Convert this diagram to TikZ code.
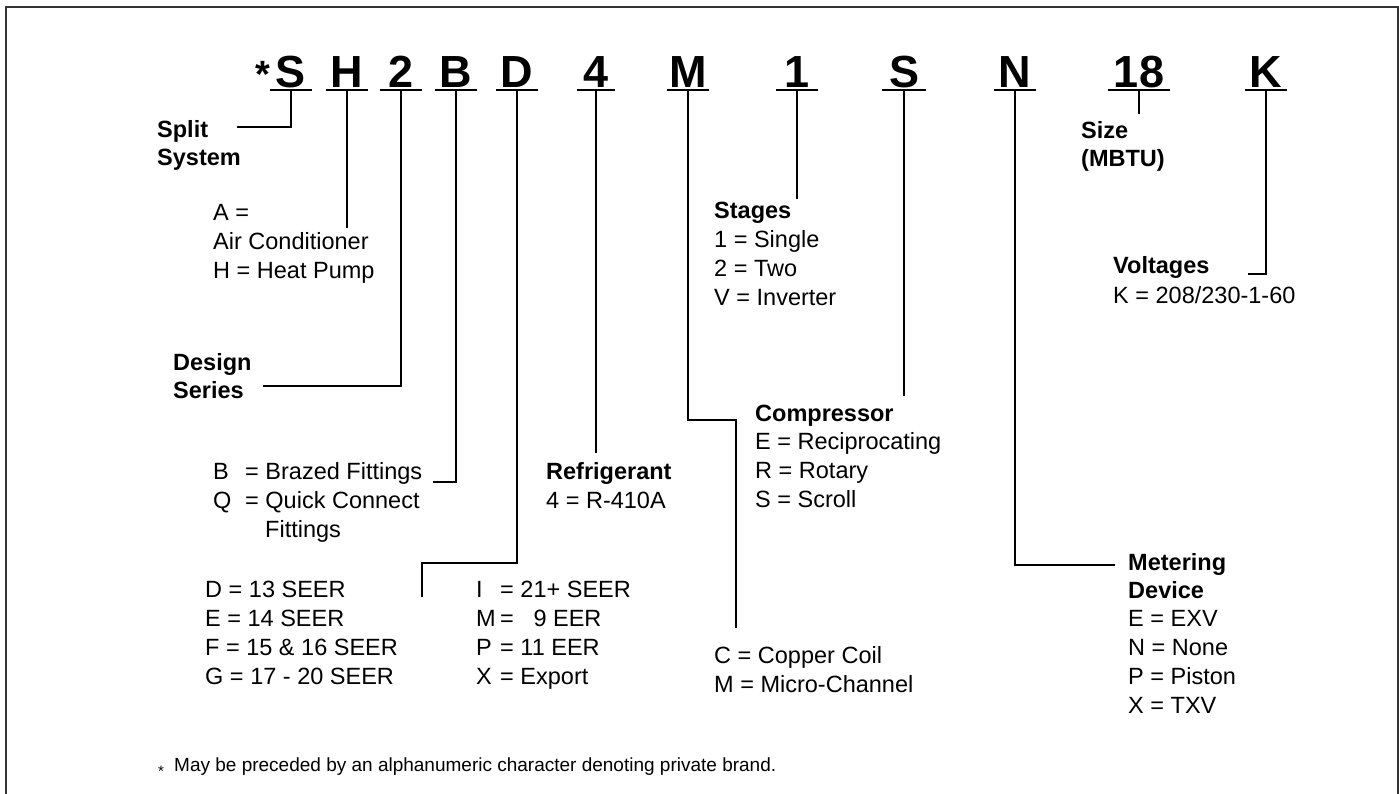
\documentclass[tikz,border=0pt]{standalone}
\usepackage{fontspec}
\setmainfont{Liberation Sans}
\begin{document}
\begin{tikzpicture}[x=1pt,y=-1pt,
  ln/.style={line width=2.2pt},
  ul/.style={line width=2.2pt},
  frame/.style={line width=2pt, draw=black!80},
  code/.style={font=\fontsize{45}{45}\selectfont\bfseries, anchor=base, inner sep=0pt},
  lbl/.style={font=\fontsize{23.5}{29}\selectfont, anchor=base west, inner sep=0pt, align=left},
  hd/.style={lbl, font=\fontsize{23.5}{28}\selectfont\bfseries},
  foot/.style={font=\fontsize{19}{23}\selectfont, anchor=base west, inner sep=0pt}
]
\useasboundingbox (0,0) rectangle (1399,793);
\draw[frame] (6,805) -- (6,7) -- (1398,7) -- (1398,805);

% code letters
\foreach \n/\x/\w/\t in {cS/291/41/S, cH/347/42/H, cTwo/401/42/2, cB/456/41/B, cD/517/42/D,
  cFour/596/38/4, cM/688/42/M, cOne/797/42/1, cSc/904/43/S, cN/1015/42/N, cSize/1139/61/18, cK/1266/42/K}
{
  \node[code, minimum width=\w pt] (\n) at (\x,87) {\t};
  \draw[ul] ([yshift=-3pt]\n.base west) -- ([yshift=-3pt]\n.base east);
}
\node[code, anchor=base east, font=\fontsize{38}{38}\selectfont\bfseries] (star) at ([xshift=0pt]cS.base west) {*};

% free ends
\coordinate (eS) at (237,127);
\coordinate (eDes) at (263,386);
\coordinate (eB) at (433,482);
\coordinate (eD) at (422,597);
\coordinate (eM) at (736,628);
\coordinate (eN) at (1115,565);
\coordinate (eK) at (1248,274);

% connectors
\draw[ln] ([yshift=-3pt]cS.base) |- (eS);
\draw[ln] ([yshift=-3pt]cH.base) -- ++(0,138);
\draw[ln] ([yshift=-3pt]cTwo.base) |- (eDes);
\draw[ln] ([yshift=-3pt]cB.base) |- (eB);
\draw[ln] ([yshift=-3pt]cD.base) -- ++(0,473) -| (eD);
\draw[ln] ([yshift=-3pt]cFour.base) -- ++(0,363);
\draw[ln] ([yshift=-3pt]cM.base) -- ++(0,330) -| (eM);
\draw[ln] ([yshift=-3pt]cOne.base) -- ++(0,109);
\draw[ln] ([yshift=-3pt]cSc.base) -- ++(0,306);
\draw[ln] ([yshift=-3pt]cN.base) |- (eN);
\draw[ln] ([yshift=-3pt]cSize.base) -- ++(0,24);
\draw[ln] ([yshift=-3pt]cK.base) |- (eK);

% labels (anchor = baseline of the last line)
\node[hd] (split) at (157,165) {Split\\System};
\node[lbl] (type) at (213,278) {A =\\Air Conditioner\\H = Heat Pump};
\node[hd] (design) at (173,398) {Design\\Series};
\node[lbl] (fit) at (213,537) {\makebox[32pt][l]{B}= Brazed Fittings\\\makebox[32pt][l]{Q}= Quick Connect\\\hspace*{52pt}Fittings};
\node[lbl] (seerA) at (205,684) {D = 13 SEER\\E = 14 SEER\\F = 15 \& 16 SEER\\G = 17 - 20 SEER};
\node[lbl] (seerB) at (476,684) {\makebox[24pt][l]{I}= 21+ SEER\\\makebox[24pt][l]{M}= \phantom{1}9 EER\\\makebox[24pt][l]{P}= 11 EER\\\makebox[24pt][l]{X}= Export};
\node[hd] (refr) at (546,479) {Refrigerant};
\node[lbl] (refrv) at (546,508) {4 = R-410A};
\node[hd] (stag) at (714,218) {Stages};
\node[lbl] (stagv) at (714,305) {1 = Single\\2 = Two\\V = Inverter};
\node[hd] (comp) at (755,421) {Compressor};
\node[lbl] (compv) at (755,507) {E = Reciprocating\\R = Rotary\\S = Scroll};
\node[lbl] (coil) at (714,692) {C = Copper Coil\\M = Micro-Channel};
\node[hd] (size) at (1081,166) {Size\\(MBTU)};
\node[hd] (volt) at (1113,273) {Voltages};
\node[lbl] (voltv) at (1113,303) {K = 208/230-1-60};
\node[hd] (meter) at (1128,598) {Metering\\Device};
\node[lbl] (meterv) at (1128,713) {E = EXV\\N = None\\P = Piston\\X = TXV};

% footnote
\node[foot, font=\fontsize{15}{15}\selectfont] (fstar) at (158,776) {*};
\node[foot] (fnote) at (174,771) {May be preceded by an alphanumeric character denoting private brand.};
\end{tikzpicture}
\end{document}
